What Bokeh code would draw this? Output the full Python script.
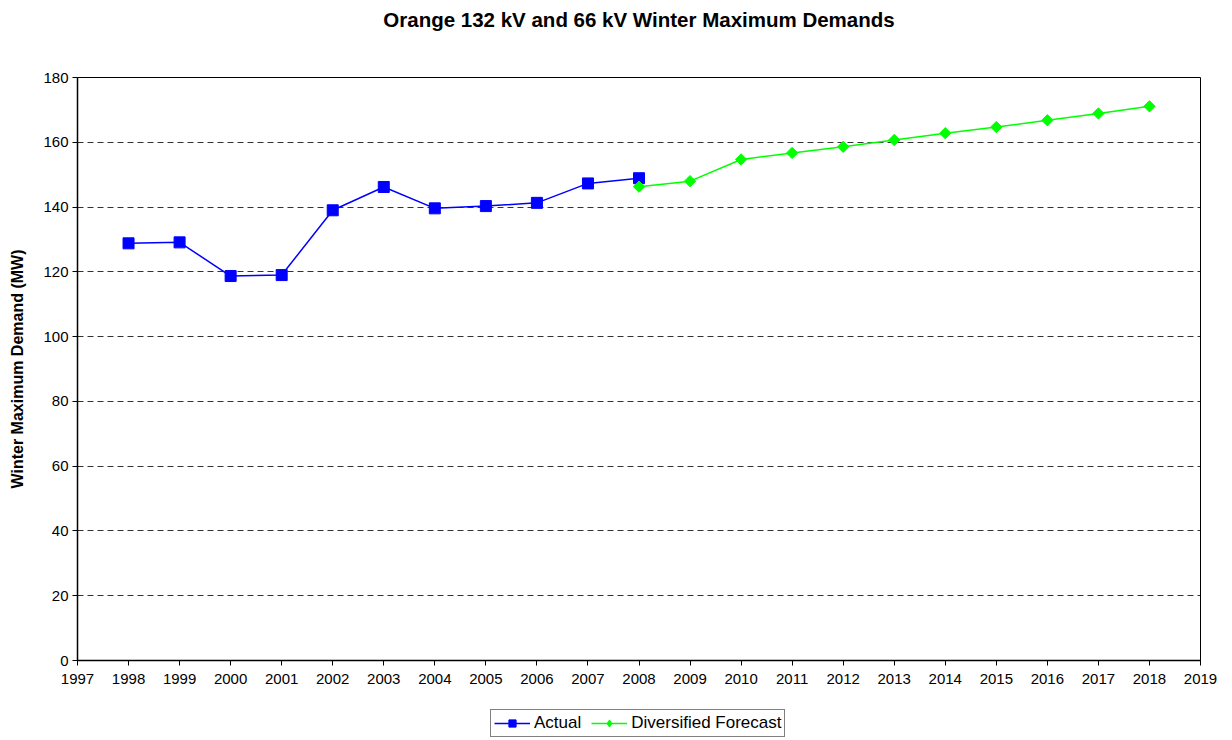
import math
from bokeh.plotting import figure
from bokeh.layouts import column
from bokeh.models import Legend, LegendItem, Range1d, FixedTicker, Title
from bokeh.embed import file_html
from bokeh.resources import INLINE

actual_years = [1998, 1999, 2000, 2001, 2002, 2003, 2004, 2005, 2006, 2007, 2008]
actual_values = [128.8, 129.1, 118.7, 119.0, 139.0, 146.2, 139.6, 140.3, 141.3, 147.3, 148.9]
forecast_years = [2008, 2009, 2010, 2011, 2012, 2013, 2014, 2015, 2016, 2017, 2018]
forecast_values = [146.3, 148.0, 154.7, 156.7, 158.6, 160.7, 162.8, 164.7, 166.8, 168.9, 171.1]
x_ticks = list(range(1997, 2020))
y_ticks = list(range(0, 181, 20))

FONT = "Liberation Sans"
BLUE = "#0000FF"
GREEN = "#00FF00"

p = figure(width=1232, height=700, output_backend="svg", toolbar_location=None,
           x_range=Range1d(1997, 2019), y_range=Range1d(0, 180), title=None)
p.min_border_left = 77
p.min_border_right = 32
p.min_border_top = 76
p.min_border_bottom = 40

# spacer (closest to the frame), then the real title above it
p.add_layout(Title(text=" ", text_font_size="27px"), "above")
p.add_layout(Title(text="Orange 132 kV and 66 kV Winter Maximum Demands", align="center",
                   text_font=FONT, text_font_size="20.5px", text_font_style="bold",
                   text_color="black"), "above")

p.outline_line_color = "black"
p.outline_line_width = 1

p.xaxis.ticker = FixedTicker(ticks=x_ticks)
p.yaxis.ticker = FixedTicker(ticks=y_ticks)
p.xaxis.minor_tick_line_color = None
p.yaxis.minor_tick_line_color = None
for ax in (p.xaxis, p.yaxis):
    ax.major_tick_in = 0
    ax.major_tick_out = 5
    ax.axis_line_color = "black"
    ax.axis_line_width = 1.5
    ax.major_tick_line_color = "black"
    ax.major_label_text_font = FONT
    ax.major_label_text_font_size = "15px"
    ax.major_label_text_color = "black"
p.xaxis.major_label_standoff = 8
p.yaxis.major_label_standoff = 4

p.yaxis.axis_label = "Winter Maximum Demand (MW)"
p.yaxis.axis_label_text_font = FONT
p.yaxis.axis_label_text_font_size = "16px"
p.yaxis.axis_label_text_font_style = "bold"
p.yaxis.axis_label_text_color = "black"
p.yaxis.axis_label_standoff = 14

p.xgrid.grid_line_color = None
p.ygrid.grid_line_color = "black"
p.ygrid.grid_line_dash = "6 4"
p.ygrid.grid_line_alpha = 0.8

p.line(actual_years, actual_values, line_color=BLUE, line_width=1.5)
p.scatter(actual_years, actual_values, marker="square", size=11,
          fill_color=BLUE, line_color=BLUE)
p.line(forecast_years, forecast_values, line_color=GREEN, line_width=1.5)
p.scatter(forecast_years, forecast_values, marker="square", angle=math.pi / 4, size=8,
          fill_color=GREEN, line_color=GREEN)

# legend strip below the chart (its renderers lie outside its own visible range)
lg = figure(width=1232, height=40, output_backend="svg", toolbar_location=None,
            x_range=Range1d(0, 1), y_range=Range1d(0, 1),
            x_axis_location=None, y_axis_location=None, min_border=0)
lg.outline_line_color = None
lg.grid.grid_line_color = None
k1 = lg.line(actual_years[:2], actual_values[:2], line_color=BLUE, line_width=1.5)
s1 = lg.scatter(actual_years[:1], actual_values[:1], marker="square", size=9,
                fill_color=BLUE, line_color=BLUE)
k2 = lg.line(forecast_years[:2], forecast_values[:2], line_color=GREEN, line_width=1.5)
s2 = lg.scatter(forecast_years[:1], forecast_values[:1], marker="diamond", size=12,
                fill_color=GREEN, line_color=GREEN)

legend = Legend(items=[LegendItem(label="Actual", renderers=[k1, s1]),
                       LegendItem(label="Diversified Forecast", renderers=[k2, s2])],
                orientation="horizontal", location=(413, 3),
                label_text_font=FONT, label_text_font_size="17px", label_text_color="black",
                border_line_color="black", border_line_width=1,
                padding=3, spacing=10, margin=0, glyph_width=36, glyph_height=18,
                label_standoff=4, label_height=18)
lg.add_layout(legend, "center")

open("out.html", "w").write(file_html(column(p, lg, spacing=0), INLINE))
